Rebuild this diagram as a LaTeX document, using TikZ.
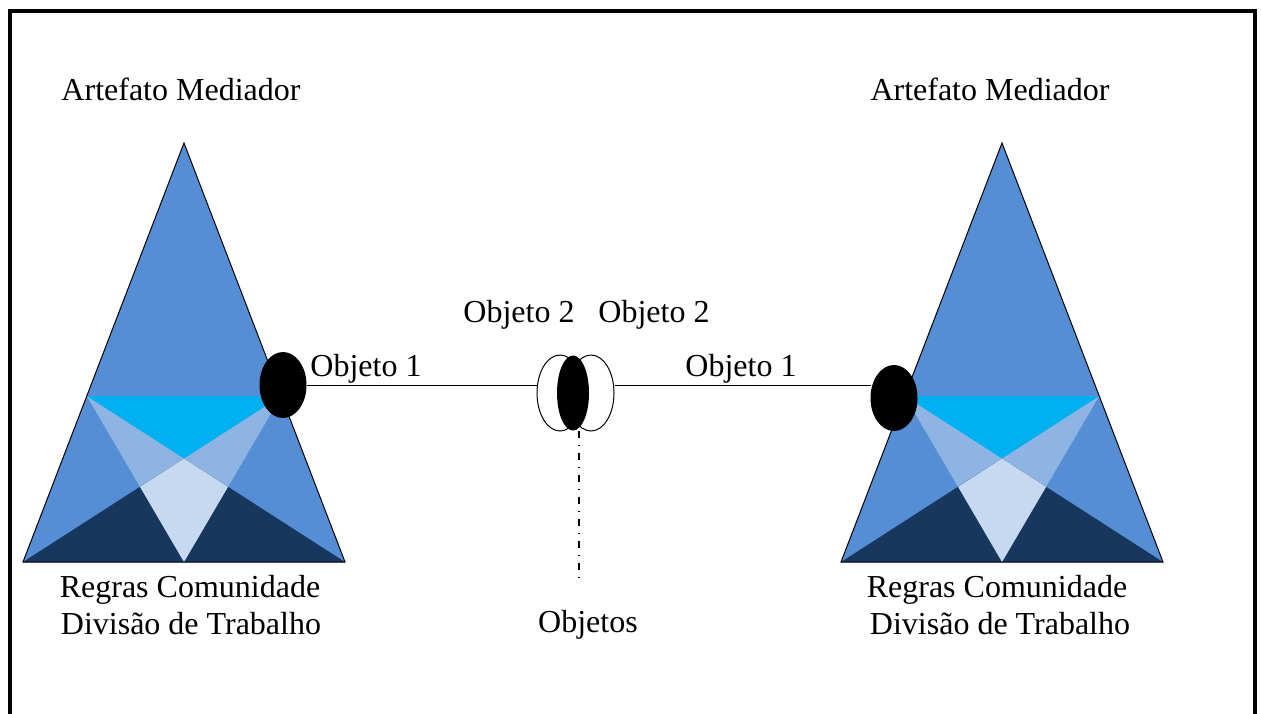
\documentclass[tikz,border=0pt]{standalone}
\usepackage{fontspec}
\setmainfont{Liberation Serif}
\usetikzlibrary{positioning,calc,shapes.geometric}
\definecolor{midblue}{HTML}{558ED5}
\definecolor{lightblue}{HTML}{8EB4E3}
\definecolor{cyanblue}{HTML}{00B0F0}
\definecolor{navyblue}{HTML}{17375E}
\definecolor{paleblue}{HTML}{C6D9F1}

\begin{document}
\begin{tikzpicture}[x = 0.5pt, y = -0.5pt, label/.style = {font = \fontsize{16}{19}\selectfont, anchor = base, inner sep = 0pt}, blob/.style = {ellipse, draw = black, fill = black, line width = 0.5pt, inner sep = 0pt, minimum width = 23pt, minimum height = 32.5pt}, shell/.style = {ellipse, draw = black, fill = white, line width = 0.5pt, inner sep = 0pt, minimum width = 23pt, minimum height = 38pt}, core/.style = {ellipse, fill = black, inner sep = 0pt, minimum width = 16pt, minimum height = 37.5pt}, thinline/.style = {line width = 0.5pt}, dashdot/.style = {line width = 1pt, dash pattern = on 3.5pt off 3.5pt on 0.75pt off 3.25pt}]
	\useasboundingbox (0,0) rectangle (1261,713);
	\draw[line width = 2pt] (10,730) -- (10,11) -- (1255,11) -- (1255,730);
	% activity triangles
	\foreach \s/\t in {0/l, 818/r} {
		\coordinate (\t top) at (184+\s,143);
		\coordinate (\t bl) at (23+\s,562);
		\coordinate (\t br) at (345+\s,562);
		\coordinate (\t bm) at ($(\t bl)!0.5!(\t br)$);
		\coordinate (\t hl) at ($(\t top)!0.6038!(\t bl)$);
		\coordinate (\t hr) at ($(\t top)!0.6038!(\t br)$);
		\coordinate (\t mid) at (intersection of \t bl--\t hr and \t br--\t hl);
		\coordinate (\t kl) at (intersection of \t bl--\t hr and \t hl--\t bm);
		\coordinate (\t kr) at (intersection of \t br--\t hl and \t hr--\t bm);
		\fill[midblue] (\t top) -- (\t bl) -- (\t br) -- cycle;
		\fill[lightblue] (\t hl) -- (\t hr) -- (\t bm) -- cycle;
		\fill[cyanblue] (\t hl) -- (\t hr) -- (\t mid) -- cycle;
		\fill[navyblue] (\t bl) -- (\t br) -- (\t mid) -- cycle;
		\fill[paleblue] (\t mid) -- (\t kl) -- (\t bm) -- (\t kr) -- cycle;
		\draw[thinline] (\t top) -- (\t bl) -- (\t br) -- cycle;
	}
	\node[blob] (objl) at (283,385) {};
	\node[blob] (objr) at (894,398) {};
	\node[shell] (obja) at (560,393) {};
	\node[shell] (objb) at (591,393) {};
	\node[core] (objc) at (573,393) {};
	\coordinate (objend) at (579,578);
	\draw[thinline] (objl.east) -- (objl.east -| obja.west);
	\draw[thinline] (objl.east -| objb.east) -- (objl.east -| objr.west);
	\draw[dashdot] (objend |- objc.south) -- (objend);
	% labels
	\node[label] (artl) at (181,100) {Artefato Mediador};
	\node[label] (artr) at (990,100) {Artefato Mediador};
	\node[label] (ob2a) at (519,322) {Objeto 2};
	\node[label] (ob2b) at (654,322) {Objeto 2};
	\node[label] (ob1l) at (366,376) {Objeto 1};
	\node[label] (ob1r) at (741,376) {Objeto 1};
	\node[label] (regl) at (190,597) {Regras Comunidade};
	\node[label] (divl) at (191,634) {Divisão de Trabalho};
	\node[label] (regr) at (997,597) {Regras Comunidade};
	\node[label] (divr) at (1000,634) {Divisão de Trabalho};
	\node[label] (objs) at (588,632) {Objetos};
\end{tikzpicture}
\end{document}
